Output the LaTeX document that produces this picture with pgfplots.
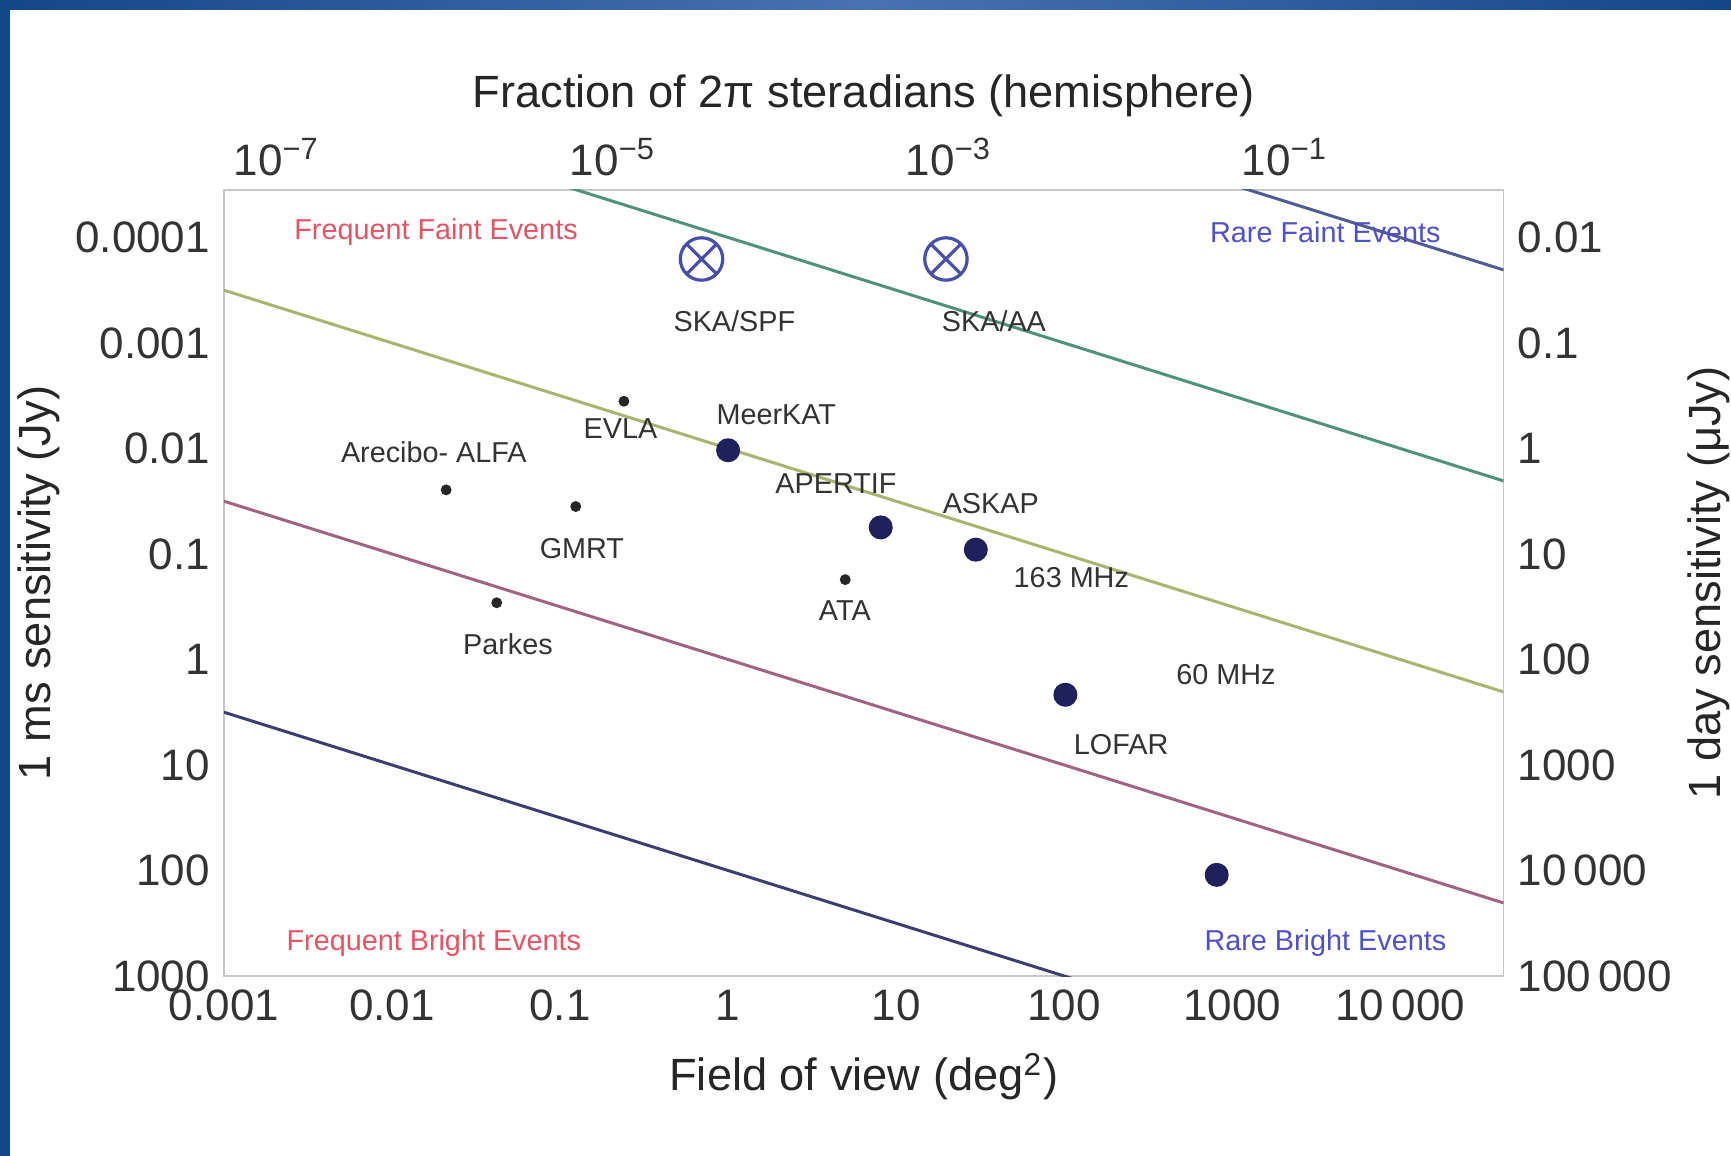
\documentclass[border=0pt]{standalone}
\usepackage{pgfplots}
\pgfplotsset{compat=1.18}
\usepackage{fontspec}
\setmainfont{Liberation Sans}
\definecolor{framedark}{RGB}{20,70,138}
\definecolor{framelight}{RGB}{72,114,178}
\definecolor{navy}{RGB}{32,32,92}
\definecolor{skablue}{RGB}{70,80,170}
\definecolor{lnA}{RGB}{80,92,150}
\definecolor{lnB}{RGB}{80,145,125}
\definecolor{lnC}{RGB}{170,180,110}
\definecolor{lnD}{RGB}{160,100,130}
\definecolor{lnE}{RGB}{60,62,112}
\definecolor{fred}{RGB}{225,85,100}
\definecolor{rblue}{RGB}{80,80,200}
\newcommand{\tickfont}{\fontsize{11bp}{13bp}\selectfont}
\newcommand{\labfont}{\fontsize{7.2bp}{8.5bp}\selectfont}
\begin{document}
\begin{tikzpicture}
\useasboundingbox (-56bp,-45bp) rectangle (376.75bp,244bp);
\shade[left color=framedark, right color=framedark, middle color=framelight] (-56bp,-45bp) rectangle (376.75bp,244bp);
\fill[white] (-53.5bp,-45bp) rectangle (376.75bp,241.5bp);
\pgfplotsset{every axis/.append style={scale only axis, width=319.9bp, height=196.5bp, at={(0,0)}, anchor=south west,
  xmode=log, ymode=log, xmin=0.001, xmax=41253, ymin=3.55e-5, ymax=1000, y dir=reverse,
  xminorticks=false, yminorticks=false, major tick length=0pt,
  tick label style={font=\tickfont, text=black!80},
  label style={font=\fontsize{11.3bp}{13bp}\selectfont, text=black!85}}}
% main axis
\begin{axis}[
  axis line style={draw=black!22},
  xtick={1e-3,1e-2,1e-1,1,10,100,1000,10000},
  xticklabels={0.001,0.01,0.1,1,10,100,1000,10\,000},
  ytick={1e-4,1e-3,1e-2,1e-1,1,10,100,1000},
  yticklabels={0.0001,0.001,0.01,0.1,1,10,100,1000},
  xlabel={Field of view (deg\textsuperscript{2})},
  xlabel style={at={(axis description cs:0.5,-0.128)}, anchor=center},
  ylabel={1 ms sensitivity (Jy)},
  ylabel style={at={(axis description cs:-0.1447,0.5)}, anchor=center},
  clip=true]
% event-rate lines, S = k * FOV^0.5
\addplot[lnA, line width=0.75bp] coordinates {(0.001,3.162e-8) (41253,2.031e-4)};
\addplot[lnB, line width=0.75bp] coordinates {(0.001,3.162e-6) (41253,2.031e-2)};
\addplot[lnC, line width=0.75bp] coordinates {(0.001,3.162e-4) (41253,2.031)};
\addplot[lnD, line width=0.75bp] coordinates {(0.001,3.162e-2) (41253,203.1)};
\addplot[lnE, line width=0.75bp] coordinates {(0.001,3.162) (41253,20310)};
% SKA
\addplot[only marks, mark=otimes, mark size=5.3bp, skablue, mark options={line width=0.8bp, fill=white}] coordinates {(0.695,1.6e-4) (19.8,1.6e-4)};
% large dots
\addplot[only marks, mark=*, mark size=2.8bp, navy] coordinates {(1.0,0.0104) (8.1,0.056) (29.8,0.091) (101.7,2.16) (809,110)};
% small dots
\addplot[only marks, mark=*, mark size=1.15bp, black!85] coordinates {(0.24,3.57e-3) (0.021,0.0247) (0.124,0.0355) (0.042,0.29) (4.98,0.175)};
% corner labels
\node[font=\labfont, text=fred] at (axis cs:0.01828,8.87e-5) {Frequent Faint Events};
\node[font=\labfont, text=rblue] at (axis cs:3589,8.87e-5) {Rare Faint Events};
\node[font=\labfont, text=fred] at (axis cs:0.01774,483) {Frequent Bright Events};
\node[font=\labfont, text=rblue] at (axis cs:3589,483) {Rare Bright Events};
% instrument labels
\node[font=\labfont, text=black!80] at (axis cs:1.090,6.27e-4) {SKA/SPF};
\node[font=\labfont, text=black!80] at (axis cs:38.2,6.27e-4) {SKA/AA};
\node[font=\labfont, text=black!80] at (axis cs:0.229,6.53e-3) {EVLA};
\node[font=\labfont, text=black!80] at (axis cs:1.936,4.78e-3) {MeerKAT};
\node[font=\labfont, text=black!80] at (axis cs:0.01774,0.01086) {Arecibo- ALFA};
\node[font=\labfont, text=black!80] at (axis cs:0.1349,0.0889) {GMRT};
\node[font=\labfont, text=black!80] at (axis cs:4.385,0.02138) {APERTIF};
\node[font=\labfont, text=black!80] at (axis cs:36.6,0.03296) {ASKAP};
\node[font=\labfont, text=black!80] at (axis cs:110.4,0.1663) {163 MHz};
\node[font=\labfont, text=black!80] at (axis cs:4.955,0.3436) {ATA};
\node[font=\labfont, text=black!80] at (axis cs:0.04898,0.7096) {Parkes};
\node[font=\labfont, text=black!80] at (axis cs:918.4,1.396) {60 MHz};
\node[font=\labfont, text=black!80] at (axis cs:218.3,6.397) {LOFAR};
\end{axis}
% top axis
\begin{axis}[
  axis x line*=top, hide y axis, axis line style={draw=none},
  xtick={0.00206265,0.206265,20.6265,2062.65},
  xticklabels={10\textsuperscript{−7},10\textsuperscript{−5},10\textsuperscript{−3},10\textsuperscript{−1}},
  xlabel={Fraction of 2π steradians (hemisphere)},
  xlabel style={at={(axis description cs:0.5,1.12)}, anchor=center}]
\end{axis}
% right axis
\begin{axis}[
  axis y line*=right, hide x axis, axis line style={draw=none},
  ytick={1e-4,1e-3,1e-2,1e-1,1,10,100,1000},
  yticklabels={0.01,0.1,1,10,100,1000,10\,000,100\,000},
  ylabel={1 day sensitivity (μJy)},
  ylabel style={at={(axis description cs:1.16,0.5)}, anchor=center}]
\end{axis}
\end{tikzpicture}
\end{document}
